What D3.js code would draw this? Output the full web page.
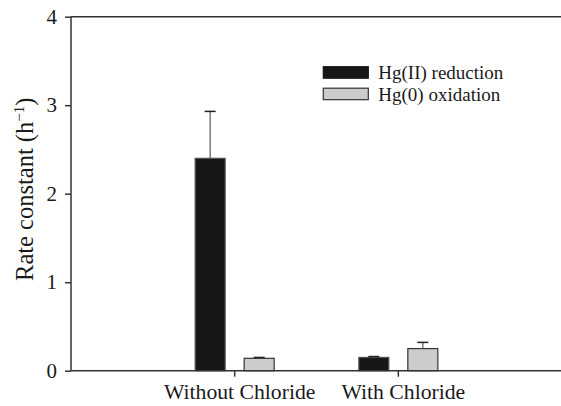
<!DOCTYPE html>
<html>
<head>
<meta charset="utf-8">
<script src="https://cdn.jsdelivr.net/npm/d3@7"></script>
<style>
  html, body { margin: 0; padding: 0; background: #fff; }
  svg { display: block; }
  text { font-family: "Liberation Serif", "Times New Roman", serif; fill: #1a1a1a; }
</style>
</head>
<body>
<svg id="chart" width="561" height="406"></svg>
<script>
const categories = ["Without Chloride", "With Chloride"];
const seriesNames = ["Hg(II) reduction", "Hg(0) oxidation"];
const reductionValues = [2.40, 0.15];
const reductionErrors = [0.53, 0.01];
const oxidationValues = [0.14, 0.25];
const oxidationErrors = [0.01, 0.07];
const yTicks = [0, 1, 2, 3, 4];

const FONT = '"Liberation Serif", "Times New Roman", serif';

const series = [
  { name: seriesNames[0], values: reductionValues, errors: reductionErrors, fill: "#171717", stroke: "#555" },
  { name: seriesNames[1], values: oxidationValues, errors: oxidationErrors, fill: "#cccccc", stroke: "#333" }
];

const svg = d3.select("#chart");
const mLeft = 71, mTop = 16.7, mBottom = 370.7, mRight = 562;

const y = d3.scaleLinear().domain([0, 4]).range([mBottom, mTop]);
const x = d3.scaleBand().domain(categories).range([mLeft, mRight]).paddingOuter(0.5).paddingInner(0);
const groupWidth = 79;
const xs = d3.scaleBand().domain(seriesNames)
  .range([x.bandwidth() / 2 - groupWidth / 2, x.bandwidth() / 2 + groupWidth / 2])
  .paddingInner(0.388).paddingOuter(0);

// bars
series.forEach(s => {
  const g = svg.append("g");
  g.selectAll("rect").data(categories).join("rect")
    .attr("x", c => x(c) + xs(s.name))
    .attr("width", xs.bandwidth())
    .attr("y", (c, i) => y(s.values[i]))
    .attr("height", (c, i) => y(0) - y(s.values[i]))
    .attr("fill", s.fill)
    .attr("stroke", s.stroke)
    .attr("stroke-width", 1.2);
  const cx = c => x(c) + xs(s.name) + xs.bandwidth() / 2;
  g.selectAll("line.stem").data(categories).join("line")
    .attr("class", "stem")
    .attr("x1", cx).attr("x2", cx)
    .attr("y1", (c, i) => y(s.values[i]))
    .attr("y2", (c, i) => y(s.values[i] + s.errors[i]))
    .attr("stroke", "#666").attr("stroke-width", 1.3);
  g.selectAll("line.cap").data(categories).join("line")
    .attr("class", "cap")
    .attr("x1", c => cx(c) - 5.5).attr("x2", c => cx(c) + 5.5)
    .attr("y1", (c, i) => y(s.values[i] + s.errors[i]))
    .attr("y2", (c, i) => y(s.values[i] + s.errors[i]))
    .attr("stroke", "#222").attr("stroke-width", 1.5);
});

// y axis
const yAxis = svg.append("g").attr("transform", `translate(${mLeft},0)`)
  .call(d3.axisLeft(y).tickValues(yTicks).tickFormat(d3.format("d")).tickSize(6).tickPadding(8));
yAxis.attr("font-family", FONT);
yAxis.select(".domain").attr("d", `M0,${mBottom}V${mTop}`);
yAxis.selectAll("text").style("font-family", FONT).style("font-size", "21px").attr("fill", "#1a1a1a");

// x axis
const xAxis = svg.append("g").attr("transform", `translate(0,${mBottom})`)
  .call(d3.axisBottom(x).tickSize(6).tickPadding(7));
xAxis.attr("font-family", FONT);
xAxis.select(".domain").attr("d", `M${mLeft},0H561`);
xAxis.selectAll("text").style("font-family", FONT).style("font-size", "21.7px").attr("dx", 5).attr("fill", "#1a1a1a");

svg.selectAll(".domain, .tick line").attr("stroke", "#333").attr("stroke-width", 1.5);

// top frame line
svg.append("line").attr("x1", mLeft).attr("x2", 561)
  .attr("y1", y(4)).attr("y2", y(4))
  .attr("stroke", "#333").attr("stroke-width", 1.5);

// y label
const yl = svg.append("text")
  .attr("transform", `translate(33,${(y(2.05))}) rotate(-90)`)
  .attr("text-anchor", "middle")
  .style("font-size", "24.5px");
yl.append("tspan").text("Rate constant (h");
yl.append("tspan").text("\u22121").attr("dy", -9).style("font-size", "15px");
yl.append("tspan").text(")").attr("dy", 9);

// legend
const legend = svg.append("g").attr("transform", "translate(323.3,79)");
series.forEach((s, i) => {
  const row = legend.append("g").attr("transform", `translate(0,${i * 21.5})`);
  row.append("rect").attr("x", 0).attr("y", -12.3).attr("width", 45).attr("height", 11.5)
    .attr("fill", s.fill).attr("stroke", i === 0 ? s.fill : "#333").attr("stroke-width", 1.2);
  row.append("text").attr("x", 55).attr("y", 0).style("font-size", "19px").text(s.name);
});
</script>
</body>
</html>
